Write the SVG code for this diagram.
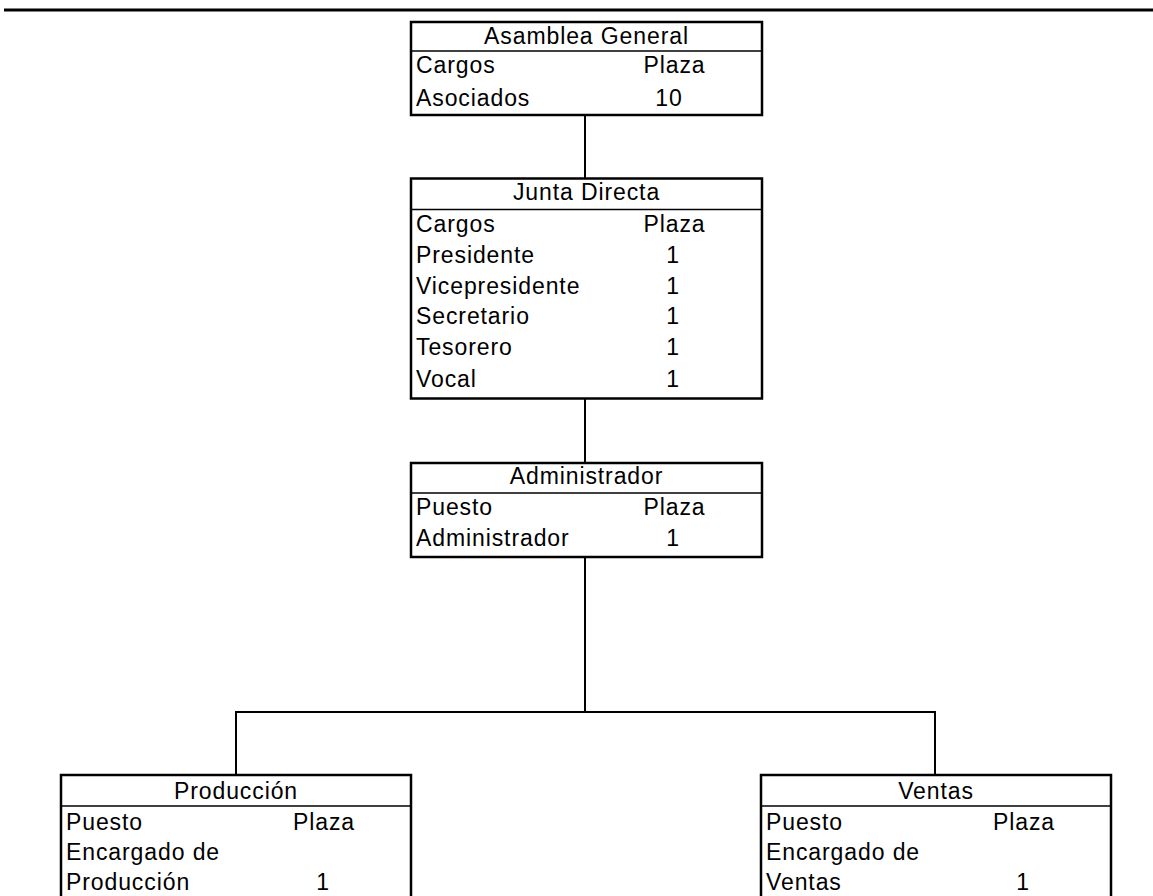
<svg xmlns="http://www.w3.org/2000/svg" width="1153" height="896" viewBox="0 0 1153 896">
<style>
.box{fill:#fff;stroke:#000;stroke-width:2.5}
.sep{stroke:#000;stroke-width:1.5}
.con{stroke:#000;stroke-width:2;fill:none}
text{font-family:"Liberation Sans",Arial,sans-serif;font-size:23px;letter-spacing:0.9px;fill:#000}
.h{text-anchor:middle}
.n{text-anchor:middle}
</style>
<rect width="1153" height="896" fill="#fff"/>
<line x1="4" y1="10" x2="1153" y2="10" stroke="#000" stroke-width="3"/>
<g id="connectors">
<line class="con" x1="585" y1="115" x2="585" y2="178"/>
<line class="con" x1="585" y1="398" x2="585" y2="463"/>
<line class="con" x1="585" y1="557" x2="585" y2="712"/>
<polyline class="con" points="236,775 236,712 935,712 935,775"/>
</g>
<g id="asamblea">
<rect class="box" x="411" y="22" width="351" height="93"/>
<line class="sep" x1="411" y1="51" x2="762" y2="51"/>
<text class="h" x="586.5" y="43.5">Asamblea General</text>
<text x="416" y="73">Cargos</text><text x="643.5" y="73">Plaza</text>
<text x="416" y="106">Asociados</text><text class="n" x="669" y="106">10</text>
</g>
<g id="junta">
<rect class="box" x="411" y="178.5" width="351" height="220"/>
<line class="sep" x1="411" y1="209.5" x2="762" y2="209.5"/>
<text class="h" x="586.5" y="200">Junta Directa</text>
<text x="416" y="232">Cargos</text><text x="643.5" y="232">Plaza</text>
<text x="416" y="263">Presidente</text><text class="n" x="673" y="263">1</text>
<text x="416" y="293.5">Vicepresidente</text><text class="n" x="673" y="293.5">1</text>
<text x="416" y="324">Secretario</text><text class="n" x="673" y="324">1</text>
<text x="416" y="355">Tesorero</text><text class="n" x="673" y="355">1</text>
<text x="416" y="387">Vocal</text><text class="n" x="673" y="387">1</text>
</g>
<g id="administrador">
<rect class="box" x="411" y="463" width="351" height="94"/>
<line class="sep" x1="411" y1="493" x2="762" y2="493"/>
<text class="h" x="586.5" y="483.5">Administrador</text>
<text x="416" y="514.5">Puesto</text><text x="643.5" y="514.5">Plaza</text>
<text x="416" y="546">Administrador</text><text class="n" x="673" y="546">1</text>
</g>
<g id="produccion">
<rect class="box" x="61" y="775" width="350" height="140"/>
<line class="sep" x1="61" y1="806" x2="411" y2="806"/>
<text class="h" x="236" y="799">Producción</text>
<text x="66" y="829.5">Puesto</text><text x="293" y="829.5">Plaza</text>
<text x="66" y="860">Encargado de</text>
<text x="66" y="889.5">Producción</text><text class="n" x="323" y="889.5">1</text>
</g>
<g id="ventas">
<rect class="box" x="761" y="775" width="350" height="140"/>
<line class="sep" x1="761" y1="806" x2="1111" y2="806"/>
<text class="h" x="936" y="799">Ventas</text>
<text x="766" y="829.5">Puesto</text><text x="993" y="829.5">Plaza</text>
<text x="766" y="860">Encargado de</text>
<text x="766" y="889.5">Ventas</text><text class="n" x="1023" y="889.5">1</text>
</g>
</svg>
